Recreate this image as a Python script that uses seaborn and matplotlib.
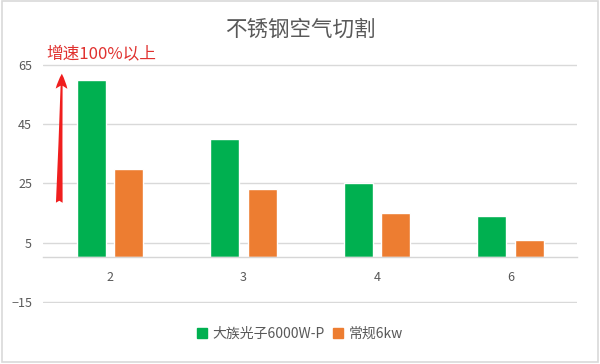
import pandas as pd
import matplotlib
matplotlib.use("Agg")
import matplotlib.pyplot as plt
import seaborn as sns
from matplotlib.patches import Patch, Rectangle

# data
categories = ["2", "3", "4", "6"]
dazu = [60, 40, 25, 14]
normal = [30, 23, 15, 6]
series_names = ["大族光子6000W-P", "常规6kw"]
colors = ["#00B050", "#ED7D31"]
yticks = [-15, 5, 25, 45, 65]

df = pd.DataFrame({
    "cat": categories * 2,
    "val": dazu + normal,
    "series": [series_names[0]] * 4 + [series_names[1]] * 4,
})

sns.set_theme(style="white")
plt.rcParams["font.family"] = ["Noto Sans CJK SC", "DejaVu Sans"]

fig = plt.figure(figsize=(6, 3.64), dpi=100)
ax = fig.add_axes([0.072, 0.168, 0.89, 0.655])

sns.barplot(data=df, x="cat", y="val", hue="series", palette=colors,
            width=0.56, gap=0.22, saturation=1, ax=ax, legend=False)

ax.set_ylim(-15.4, 65.2)
ax.set_yticks(yticks)
ax.set_xlim(-0.5, 3.5)
ax.grid(axis="y", color="#d9d9d9", lw=1)
ax.set_axisbelow(True)
for s in ["top", "right", "left"]:
    ax.spines[s].set_visible(False)
ax.spines["bottom"].set_position(("data", 0))
ax.spines["bottom"].set_color("#d6d6d6")
ax.spines["bottom"].set_linewidth(1)
ax.tick_params(axis="both", length=0, colors="#595959", labelsize=9)
ax.tick_params(axis="x", pad=10)
ax.tick_params(axis="y", pad=8)
ax.set_xlabel("")
ax.set_ylabel("")

fig.text(0.5, 0.918, "不锈钢空气切割", ha="center", va="center",
         fontsize=15.5, color="#595959")
fig.text(0.078, 0.849, "增速100%以上", ha="left", va="center",
         fontsize=12, color="#e0312f")

# red growth arrow
ax.annotate("", xy=(-0.36, 63), xytext=(-0.38, 17.5),
            arrowprops=dict(arrowstyle="fancy,head_length=0.9,head_width=0.7,tail_width=0.4",
                            color="#f01e1e", lw=0))

handles = [Patch(color=c, label=n) for c, n in zip(colors, series_names)]
fig.legend(handles=handles, loc="center", bbox_to_anchor=(0.5, 0.083), ncol=2,
           frameon=False, fontsize=10, handlelength=0.7, handleheight=0.7,
           handletextpad=0.4, columnspacing=0.6, labelcolor="#595959")

fig.patches.append(Rectangle((0.004, 0.006), 0.992, 0.99, transform=fig.transFigure,
                             fill=False, edgecolor="#d9d9d9", lw=1.2))

fig.savefig("out.png", dpi=100)
